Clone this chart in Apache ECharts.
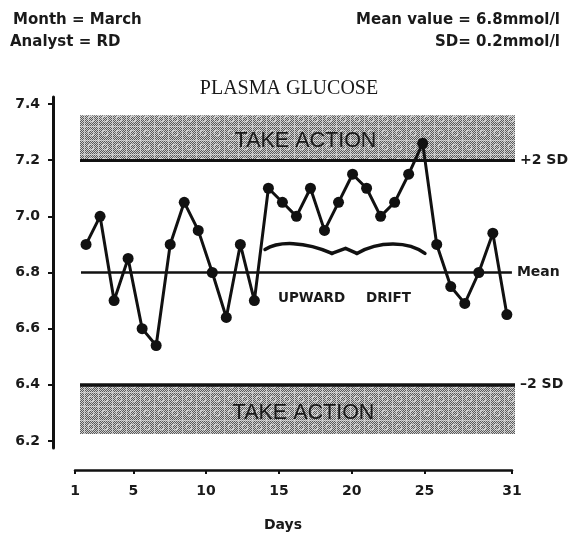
<!DOCTYPE html>
<html>
<head>
<meta charset="utf-8">
<script src="https://cdn.jsdelivr.net/npm/echarts@6/dist/echarts.min.js"></script>
<style>
  html, body { margin: 0; padding: 0; background: #fff; }
  #chart { width: 574px; height: 534px; }
</style>
</head>
<body>
<div id="chart"></div>
<script>
// Daily plasma glucose control chart, March
const days = [1, 2, 3, 4, 5, 6, 7, 8, 9, 10, 11, 12, 13, 14, 15, 16,
              17, 18, 19, 20, 21, 22, 23, 24, 25, 26, 27, 28, 29, 30, 31];
const glucose = [6.90, 7.00, 6.70, 6.85, 6.60, 6.54, 6.90, 7.05, 6.95, 6.80,
                 6.64, 6.90, 6.70, 7.10, 7.05, 7.00, 7.10, 6.95, 7.05, 7.15,
                 7.10, 7.00, 7.05, 7.15, 7.26, 6.90, 6.75, 6.69, 6.80, 6.94, 6.65];
const meanValue = 6.8;
const sdValue = 0.2;
const yTicks = [6.2, 6.4, 6.6, 6.8, 7.0, 7.2, 7.4];
const dayTicks = [1, 5, 10, 15, 20, 25, 31];
// extent of the shaded "take action" zones (day, mmol/l)
const zoneDays = [0.57, 31.58];
const meanLineDays = [0.64, 31.36];
const upperZoneTop = 7.36;
const lowerZoneBottom = 6.225;
// horizontal brace marking the drift run: [day, mmol/l] anchors
// left lobe: start, control 1, control 2, end
const braceLeftLobe = [[13.76, 6.882], [14.7, 6.912], [16.6, 6.912], [18.53, 6.868]];
// small central point of the brace, then where the right lobe begins
const bracePeak = [[19.5, 6.886], [20.31, 6.868]];
// right lobe: control 1, control 2, end
const braceRightLobe = [[21.9, 6.914], [24.0, 6.912], [25.16, 6.868]];

const TXT = '#1a1a1a';
const SANS = '"DejaVu Sans", sans-serif';

function halftone() {
  const c = document.createElement('canvas');
  c.width = 14; c.height = 14;
  const g = c.getContext('2d');
  for (let y = 0; y < 14; y++) {
    for (let x = 0; x < 14; x++) {
      g.fillStyle = (x + y) % 2 ? '#5a5a5a' : '#cecece';
      g.fillRect(x, y, 1, 1);
    }
  }
  g.strokeStyle = 'rgba(235,235,235,0.75)';
  g.lineWidth = 1;
  g.beginPath(); g.arc(7, 7, 3, 0, Math.PI * 2); g.stroke();
  g.fillStyle = 'rgba(230,230,230,0.6)';
  g.fillRect(0, 0, 14, 1);
  g.fillRect(0, 0, 1, 14);
  return c;
}
const zoneFill = { image: halftone(), repeat: 'repeat' };

const upper = +(meanValue + 2 * sdValue).toFixed(2);
const lower = +(meanValue - 2 * sdValue).toFixed(2);

const chart = echarts.init(document.getElementById('chart'), null, { renderer: 'canvas' });

const zoneLabel = (offset) => ({
  show: true, position: 'inside', offset: offset,
  formatter: 'TAKE ACTION',
  fontFamily: '"Liberation Sans", Arial, sans-serif',
  fontSize: 21.5, color: TXT
});
const endLabel = (text) => ({
  show: true, position: 'end', distance: 5, formatter: text,
  fontFamily: SANS, fontWeight: 'bold', fontSize: 14, color: TXT
});

const textEls = [
  { id: 'month', type: 'text', left: 13, top: 13,
    style: { text: 'Month = March', font: 'bold 15px ' + SANS, fill: TXT } },
  { id: 'analyst', type: 'text', left: 10, top: 35,
    style: { text: 'Analyst = RD', font: 'bold 15px ' + SANS, fill: TXT } },
  { id: 'meanv', type: 'text', right: 14, top: 13,
    style: { text: 'Mean value = 6.8mmol/l', font: 'bold 15px ' + SANS, fill: TXT } },
  { id: 'sdv', type: 'text', right: 14, top: 35,
    style: { text: 'SD= 0.2mmol/l', font: 'bold 15px ' + SANS, fill: TXT } },
  { id: 'title', type: 'text', x: 289, y: 89,
    style: { text: 'PLASMA GLUCOSE', font: '20px "Liberation Serif", "Times New Roman", serif',
             fill: TXT, align: 'center', verticalAlign: 'middle' } },
  { id: 'up', type: 'text', x: 278, y: 298,
    style: { text: 'UPWARD', font: 'bold 13.5px ' + SANS, fill: TXT, verticalAlign: 'middle' } },
  { id: 'drift', type: 'text', x: 366, y: 298,
    style: { text: 'DRIFT', font: 'bold 13.5px ' + SANS, fill: TXT, verticalAlign: 'middle' } },
  { id: 'days', type: 'text', x: 283, y: 525,
    style: { text: 'Days', font: 'bold 14px ' + SANS, fill: TXT, align: 'center', verticalAlign: 'middle' } }
];

chart.setOption({
  animation: false,
  backgroundColor: '#fff',
  grid: [
    { left: 80, right: 59, top: 97, bottom: 86 },
    { left: 75, right: 62, top: 469, height: 1 }
  ],
  xAxis: [
    { gridIndex: 0, type: 'value', min: zoneDays[0], max: zoneDays[1], show: false },
    {
      gridIndex: 1, type: 'value', min: 1, max: 31,
      axisLine: { show: true, lineStyle: { color: '#111', width: 2.5 } },
      axisTick: { show: true, length: 4, lineStyle: { color: '#111', width: 2 }, customValues: dayTicks },
      axisLabel: {
        customValues: dayTicks, margin: 14,
        fontFamily: SANS, fontWeight: 'bold', fontSize: 14, color: TXT
      },
      splitLine: { show: false }
    }
  ],
  yAxis: [
    {
      gridIndex: 0, type: 'value', min: 6.175, max: 7.425, offset: 27,
      axisLine: { show: true, lineStyle: { color: '#111', width: 3 } },
      axisTick: { show: true, length: 5, lineStyle: { color: '#111', width: 2 }, customValues: yTicks },
      axisLabel: {
        customValues: yTicks, margin: 13,
        formatter: (v) => v.toFixed(1),
        fontFamily: SANS, fontWeight: 'bold', fontSize: 14, color: TXT
      },
      splitLine: { show: false }
    },
    { gridIndex: 1, type: 'value', min: 0, max: 1, show: false }
  ],
  series: [
    {
      type: 'line',
      xAxisIndex: 0, yAxisIndex: 0,
      data: days.map((d, i) => [d, glucose[i]]),
      symbol: 'circle', symbolSize: 11,
      lineStyle: { color: '#111', width: 3 },
      itemStyle: { color: '#111' },
      z: 5,
      markArea: {
        silent: true,
        itemStyle: { color: zoneFill },
        data: [
          [{ coord: [zoneDays[0], upperZoneTop], label: zoneLabel([8, 3]) },
           { coord: [zoneDays[1], upper] }],
          [{ coord: [zoneDays[0], lower], label: zoneLabel([6, 4]) },
           { coord: [zoneDays[1], lowerZoneBottom] }]
        ]
      },
      markLine: {
        silent: true, symbol: ['none', 'none'],
        lineStyle: { color: '#111', type: 'solid' },
        data: [
          [{ coord: [zoneDays[0], upper], lineStyle: { width: 3 }, label: endLabel('+2 SD') },
           { coord: [zoneDays[1], upper] }],
          [{ coord: [meanLineDays[0], meanValue], lineStyle: { width: 2.5 }, label: endLabel('Mean') },
           { coord: [meanLineDays[1], meanValue] }],
          [{ coord: [zoneDays[0], lower], lineStyle: { width: 3.5 }, label: endLabel('\u20132 SD') },
           { coord: [zoneDays[1], lower] }]
        ]
      }
    }
  ],
  graphic: textEls
});

// horizontal brace over the drift run, placed through the grid's own scales
function toPx(p) { return chart.convertToPixel({ gridIndex: 0 }, p); }
const L = braceLeftLobe.map(toPx);
const P = bracePeak.map(toPx);
const R = braceRightLobe.map(toPx);
const braceStyle = { fill: 'none', stroke: '#111', lineWidth: 3.5, lineCap: 'round', lineJoin: 'round' };
chart.setOption({
  graphic: textEls.concat([
    { id: 'braceL', type: 'bezierCurve',
      shape: { x1: L[0][0], y1: L[0][1], cpx1: L[1][0], cpy1: L[1][1],
               cpx2: L[2][0], cpy2: L[2][1], x2: L[3][0], y2: L[3][1] },
      style: braceStyle },
    { id: 'braceP', type: 'polyline',
      shape: { points: [L[3], P[0], P[1]] },
      style: braceStyle },
    { id: 'braceR', type: 'bezierCurve',
      shape: { x1: P[1][0], y1: P[1][1], cpx1: R[0][0], cpy1: R[0][1],
               cpx2: R[1][0], cpy2: R[1][1], x2: R[2][0], y2: R[2][1] },
      style: braceStyle }
  ])
});
</script>
</body>
</html>
